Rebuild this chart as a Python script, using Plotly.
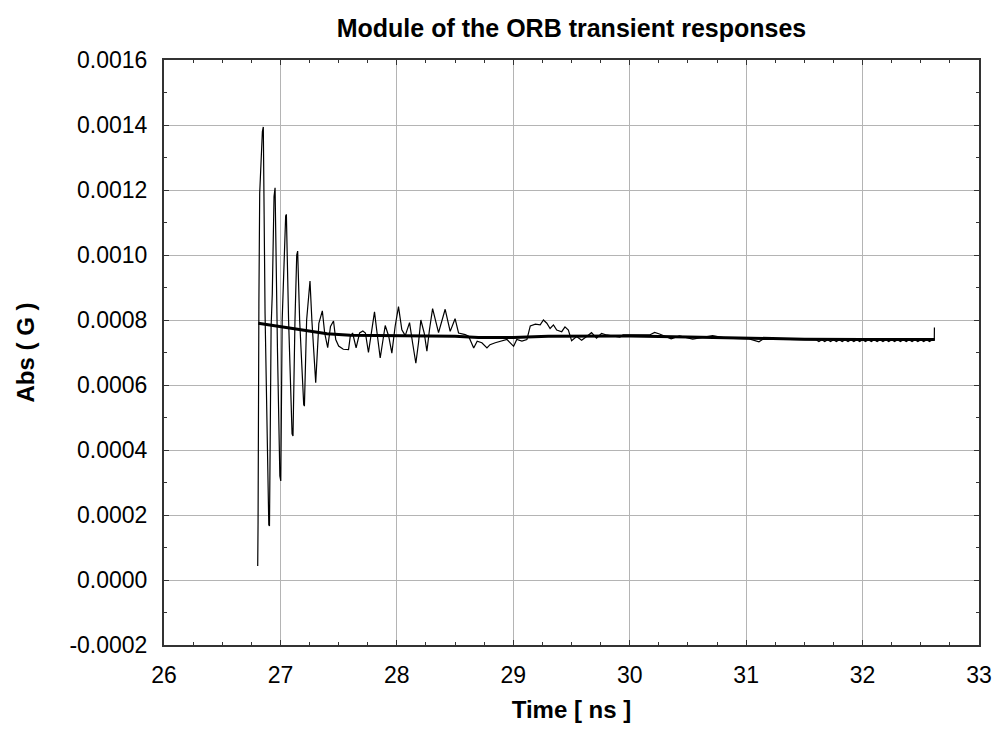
import plotly.graph_objects as go

# Thin oscillating transient response (time in ns, |G|)
t_resp = [26.805, 26.808, 26.815, 26.822, 26.845, 26.853, 26.868, 26.88, 26.9, 26.906,
          26.92, 26.93, 26.945, 26.954, 26.965, 26.975, 26.995, 27.003, 27.015, 27.03,
          27.045, 27.051, 27.07, 27.1, 27.108, 27.125, 27.14, 27.148, 27.165, 27.2,
          27.206, 27.225, 27.245, 27.254, 27.27, 27.3, 27.303, 27.33, 27.36, 27.38,
          27.406, 27.43, 27.456, 27.475, 27.5, 27.54, 27.585, 27.6, 27.62, 27.65,
          27.68, 27.708, 27.73, 27.756, 27.785, 27.808, 27.83, 27.857, 27.9, 27.93,
          27.957, 27.985, 28.014, 28.043, 28.072, 28.109, 28.135, 28.163, 28.186, 28.206,
          28.235, 28.258, 28.28, 28.307, 28.358, 28.415, 28.458, 28.5, 28.53, 28.587,
          28.616, 28.66, 28.69, 28.73, 28.774, 28.8, 28.845, 28.888, 28.946, 29.003,
          29.03, 29.074, 29.117, 29.146, 29.19, 29.231, 29.259, 29.288, 29.316, 29.345,
          29.373, 29.416, 29.444, 29.473, 29.501, 29.544, 29.587, 29.63, 29.672, 29.715,
          29.758, 29.801, 29.915, 29.943, 30.0, 30.057, 30.171, 30.214, 30.256, 30.356,
          30.427, 30.541, 30.655, 30.712, 30.826, 30.94, 31.026, 31.11, 31.14, 31.255,
          31.4, 31.57,
          31.6, 31.625, 31.65, 31.675, 31.7, 31.725, 31.75, 31.775, 31.8, 31.825,
          31.85, 31.875, 31.9, 31.925, 31.95, 31.975, 32.0, 32.025, 32.05, 32.075,
          32.1, 32.125, 32.15, 32.175, 32.2, 32.225, 32.25, 32.275, 32.3, 32.325,
          32.35, 32.375, 32.4, 32.425, 32.45, 32.475, 32.5, 32.525, 32.55, 32.575,
          32.6, 32.616, 32.617]
v_resp = [0.000043, 0.00018, 0.00085, 0.00119, 0.00138, 0.001394, 0.00082, 0.00055, 0.00017, 0.000166,
          0.00078, 0.00088, 0.00118, 0.001207, 0.0009, 0.0007, 0.00032, 0.000305, 0.0008, 0.00097,
          0.00112, 0.001125, 0.0008, 0.00045, 0.000443, 0.0008, 0.001, 0.001012, 0.0008, 0.00054,
          0.000535, 0.0008, 0.0009, 0.00092, 0.0008, 0.00061, 0.000607, 0.00079, 0.000828, 0.00076,
          0.000715, 0.00078, 0.000797, 0.00074, 0.00072, 0.00071, 0.000709, 0.00075, 0.00076, 0.000714,
          0.00076, 0.000766, 0.00076, 0.0007, 0.00077, 0.000825, 0.00076, 0.000683, 0.000783, 0.00075,
          0.000698, 0.00078, 0.000841, 0.00077, 0.000752, 0.000792, 0.00073, 0.000667, 0.00073, 0.0008,
          0.00076, 0.000704, 0.00077, 0.000835, 0.000761, 0.000833, 0.000765, 0.000804, 0.00076, 0.000755,
          0.00075, 0.000714, 0.000735, 0.00073, 0.000714, 0.000724, 0.00073, 0.000735, 0.00074, 0.000719,
          0.00074, 0.000735, 0.00074, 0.000782, 0.000787, 0.000785, 0.0008, 0.00079, 0.000774, 0.000785,
          0.000769, 0.000764, 0.000779, 0.000769, 0.000736, 0.000749, 0.000738, 0.000749, 0.000761, 0.000744,
          0.000759, 0.000754, 0.000747, 0.000754, 0.000754, 0.000752, 0.000754, 0.000762, 0.000757, 0.000742,
          0.000751, 0.000741, 0.000749, 0.000752, 0.000744, 0.000744, 0.000742, 0.000733, 0.00074, 0.000741,
          0.00074, 0.00074,
          0.000739, 0.000734, 0.000739, 0.000734, 0.000739, 0.000734, 0.000739, 0.000734, 0.000739, 0.000734,
          0.000739, 0.000734, 0.000739, 0.000734, 0.000739, 0.000734, 0.000739, 0.000734, 0.000739, 0.000734,
          0.000739, 0.000734, 0.000739, 0.000734, 0.000739, 0.000734, 0.000739, 0.000734, 0.000739, 0.000734,
          0.000739, 0.000734, 0.000739, 0.000734, 0.000739, 0.000734, 0.000739, 0.000734, 0.000739, 0.000734,
          0.000739, 0.000739, 0.000777]

# Thick smooth trend
t_mean = [26.81, 27.0, 27.2, 27.4, 27.6, 28.0, 28.5, 28.7, 29.0, 29.3,
          29.6, 30.0, 30.5, 31.0, 31.5, 32.0, 32.62]
v_mean = [0.00079, 0.00078, 0.000768, 0.000758, 0.000753, 0.000752, 0.00075, 0.000746, 0.000746, 0.00075,
          0.00075, 0.000751, 0.000748, 0.000744, 0.000741, 0.00074, 0.00074]

y_tickvals = [-0.0002, 0.0, 0.0002, 0.0004, 0.0006, 0.0008, 0.0010, 0.0012, 0.0014, 0.0016]
y_ticktext = ["-0.0002", "0.0000", "0.0002", "0.0004", "0.0006", "0.0008",
              "0.0010", "0.0012", "0.0014", "0.0016"]
x_tickvals = [26, 27, 28, 29, 30, 31, 32, 33]
x_ticktext = ["26", "27", "28", "29", "30", "31", "32", "33"]

FONT = "Liberation Sans, Arial, sans-serif"

fig = go.Figure()
fig.add_trace(go.Scatter(x=t_resp, y=v_resp, mode="lines",
                         line=dict(color="black", width=1.2), showlegend=False))
fig.add_trace(go.Scatter(x=t_mean, y=v_mean, mode="lines",
                         line=dict(color="black", width=3), showlegend=False))

axis_common = dict(
    showline=True, linecolor="#333333", linewidth=2, mirror="ticks",
    ticks="inside", ticklen=5, tickwidth=1, tickcolor="#333333",
    showgrid=True, gridcolor="#b4b4b4", gridwidth=1, zeroline=False,
    tickfont=dict(family=FONT, size=23, color="black"),
)

fig.update_layout(
    width=1003, height=741,
    margin=dict(l=164, r=24, t=60, b=96),
    paper_bgcolor="white", plot_bgcolor="white",
    title=dict(text="<b>Module of the ORB transient responses</b>",
               x=0.5, xref="paper", xanchor="center",
               y=1 - 28 / 741, yref="container", yanchor="middle",
               font=dict(family=FONT, size=25, color="black")),
    xaxis=dict(range=[26, 33], tickmode="array", tickvals=x_tickvals, ticktext=x_ticktext,
               minor=dict(dtick=0.25, ticks="inside", ticklen=3, tickcolor="#333333", showgrid=False),
               title=dict(text="<b>Time [ ns ]</b>", font=dict(family=FONT, size=24, color="black"),
                          standoff=15),
               ticklabelstandoff=8,
               **axis_common),
    yaxis=dict(range=[-0.0002, 0.0016], tickmode="array", tickvals=y_tickvals, ticktext=y_ticktext,
               minor=dict(dtick=0.0001, tick0=0, ticks="inside", ticklen=3, tickcolor="#333333", showgrid=False),
               title=dict(text="<b>Abs ( G )</b>", font=dict(family=FONT, size=24, color="black"),
                          standoff=28),
               ticklabelstandoff=10,
               **axis_common),
)

fig.write_html("out.html")
